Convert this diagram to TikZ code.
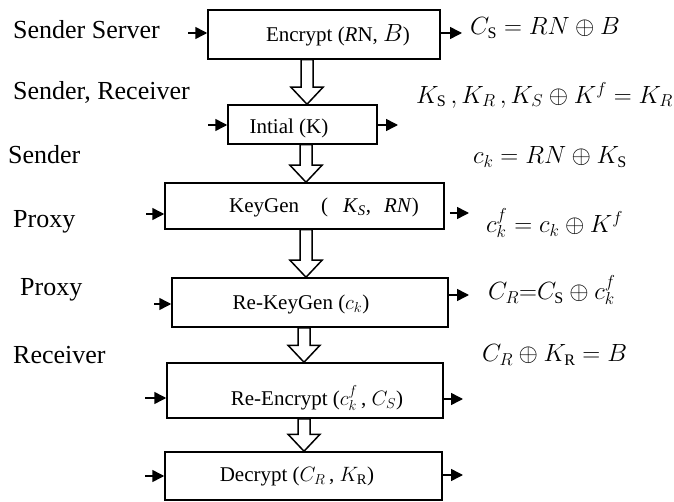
\documentclass[tikz,border=0pt]{standalone}
\usepackage{fontspec}
\setmainfont{Liberation Serif}
\usetikzlibrary{arrows.meta,calc}
\newcommand\hollowarr[3]{\draw[hollow] let \p1=(#2.south), \p2=(#3.north) in
 (#1pt-6pt,\y1) -- (#1pt+6pt,\y1) -- (#1pt+6pt,\y2+17pt) -- (#1pt+16pt,\y2+17pt) -- (#1pt,\y2) -- (#1pt-16pt,\y2+17pt) -- (#1pt-6pt,\y2+17pt) -- cycle;}
\begin{document}
\begin{tikzpicture}[x=1pt,y=-1pt,
  boxsty/.style={draw,line width=1.5pt,inner sep=0pt,rectangle},
  boxtext/.style={inner sep=0pt,anchor=center,font=\fontsize{21}{25}\selectfont},
  role/.style={inner sep=0pt,anchor=west,font=\fontsize{26}{30}\selectfont},
  eqn/.style={inner sep=0pt,anchor=west,font=\fontsize{23}{28}\selectfont},
  smallarr/.style={line width=1.5pt,-{Triangle[length=12pt,width=12pt]}},
  hollow/.style={line width=1.5pt,line join=miter}]
\fill[white] (0,0) rectangle (674,502);
\useasboundingbox (0,0) rectangle (674,502);

% boxes
\node[boxsty,minimum width=232pt,minimum height=49pt] (b1) at (324,34.5) {};
\node[boxsty,minimum width=149pt,minimum height=39pt] (b2) at (302.5,124.5) {};
\node[boxsty,minimum width=279pt,minimum height=46pt] (b3) at (304.5,206) {};
\node[boxsty,minimum width=276pt,minimum height=49pt] (b4) at (310,302.5) {};
\node[boxsty,minimum width=276pt,minimum height=55pt] (b5) at (305,390.5) {};
\node[boxsty,minimum width=277pt,minimum height=48pt] (b6) at (303.5,476) {};

% box texts
\node[boxtext] (t1) at (338,35) {Encrypt (\textit{R}N, {\fontsize{24}{28}\selectfont$B$})};
\node[boxtext] (t2) at (289,128) {Intial (K)};
\node[boxtext] (t3) at (324,207) {KeyGen\hspace{22pt}(\hspace{15pt}\textit{K}\textsubscript{\textit{S}},\hspace{13pt}\textit{RN})};
\node[boxtext] (t4) at (301,304) {Re-KeyGen ($c_k$)};
\node[boxtext] (t5) at (317,398) {Re-Encrypt ($c_k^f$\,, $C_S$)};
\node[boxtext] (t6) at (297,476) {Decrypt ($C_R$\,, $K_{\mathrm{R}}$)};

% role labels
\node[role] (r1) at (13,30) {Sender Server};
\node[role] (r2) at (13,92) {Sender, Receiver};
\node[role] (r3) at (8,155) {Sender};
\node[role] (r4) at (13,222) {Proxy};
\node[role] (r5) at (20,290) {Proxy};
\node[role] (r6) at (13,355) {Receiver};

% equations
\node[eqn] (e1) at (470,28) {$C_{\mathrm{S}}=RN\oplus B$};
\node[eqn] (e2) at (416,95) {$K_{\mathrm{S}}\,,K_R\,,K_S\oplus K^f=K_R$};
\node[eqn] (e3) at (473,157) {$c_k=RN\oplus K_{\mathrm{S}}$};
\node[eqn] (e4) at (486,223) {$c_k^f=c_k\oplus K^f$};
\node[eqn] (e5) at (488,290) {$C_R{=}C_{\mathrm{S}}\oplus c_k^f$};
\node[eqn] (e6) at (482,355) {$C_R\oplus K_{\mathrm{R}}=B$};

% free ends of the small arrows
\coordinate (i1) at (188,33);   \coordinate (o1) at (462,33);
\coordinate (i2) at (208,125);  \coordinate (o2) at (398,125);
\coordinate (i3) at (146,214);  \coordinate (o3) at (469,213);
\coordinate (i4) at (154,304);  \coordinate (o4) at (469,295);
\coordinate (i5) at (145,398);  \coordinate (o5) at (463,399);
\coordinate (i6) at (145,476);  \coordinate (o6) at (463,475);

\foreach \k in {1,2,4,5,6}{
  \draw[smallarr] (i\k) -- (i\k -| b\k.west);
  \draw[smallarr] (o\k -| b\k.east) -- (o\k);
}
\draw[smallarr] (i3) -- (i3 -| b3.west);
\draw[smallarr,shorten <=5pt] (o3 -| b3.east) -- (o3);

% hollow block arrows
\hollowarr{307}{b1}{b2}
\hollowarr{306}{b2}{b3}
\hollowarr{306}{b3}{b4}
\hollowarr{304}{b4}{b5}
\hollowarr{304}{b5}{b6}
\end{tikzpicture}
\end{document}
